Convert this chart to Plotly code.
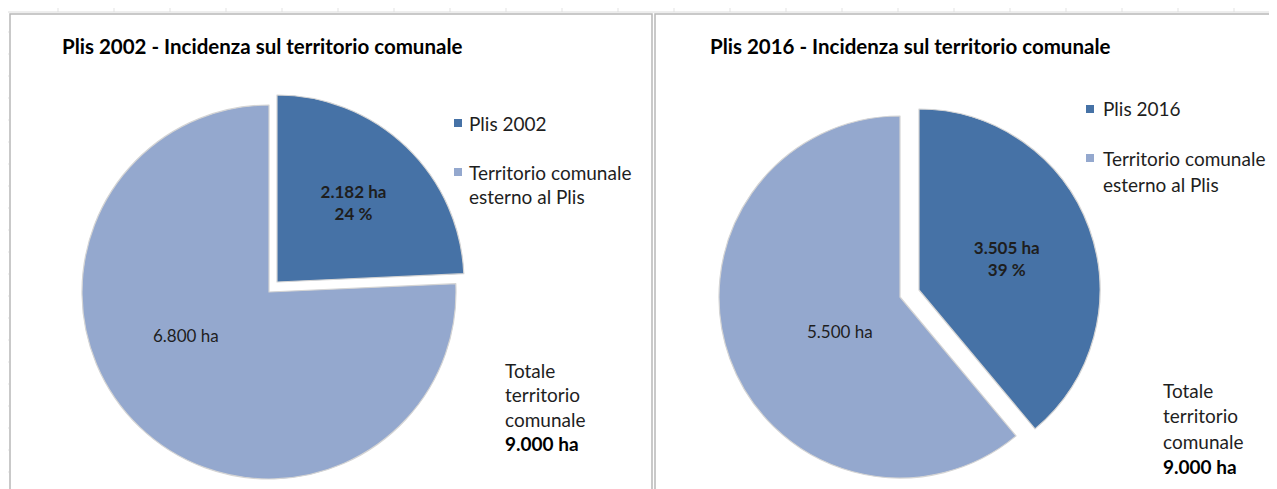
import plotly.graph_objects as go

W, H = 1277, 489
OFF = 8  # page body margin
FW, FH = W - OFF, H - OFF

# ---- data ----
labels_2002 = ["Plis 2002", "Territorio comunale esterno al Plis"]
values_2002 = [2182, 6800]
labels_2016 = ["Plis 2016", "Territorio comunale esterno al Plis"]
values_2016 = [3505, 5500]
total_ha = 9000
titles = ["Plis 2002 - Incidenza sul territorio comunale",
          "Plis 2016 - Incidenza sul territorio comunale"]
legend_lines = [["Plis 2002"], ["Territorio comunale", "esterno al Plis"]]
legend_lines_2016 = [["Plis 2016"], ["Territorio comunale", "esterno al Plis"]]
totale_lines = ["Totale", "territorio", "comunale"]

DARK = "#4672a6"
LIGHT = "#94a8ce"
CLEAR = "rgba(0,0,0,0)"
TXT = "#1e1e1e"
FONT = "Lato"


def px_x(x):
    return (x - OFF) / FW


def px_y(y):
    return 1 - (y - OFF) / FH


def fmt_ha(v):
    return f"{v:,.0f}".replace(",", ".") + " ha"


annotations = []
shapes = []


def pie_pair(labels, values, cx, cy, r, off, light_lab):
    total = sum(values)
    pct = round(values[0] / total * 100)
    dark_text = f"<b>{fmt_ha(values[0])}<br>{pct} %</b>"
    common = dict(labels=labels, values=values, sort=False, direction="clockwise",
                  rotation=0, textinfo="text", hoverinfo="label+value", showlegend=False,
                  insidetextorientation="horizontal")
    base = go.Pie(**common,
                  domain=dict(x=[px_x(cx - r), px_x(cx + r)], y=[px_y(cy + r), px_y(cy - r)]),
                  marker=dict(colors=[CLEAR, LIGHT], line=dict(color=[CLEAR, "#d4d4d4"], width=1.2)),
                  text=["", ""], textposition="none")
    ox, oy = off
    pulled = go.Pie(**common,
                    domain=dict(x=[px_x(cx + ox - r), px_x(cx + ox + r)],
                                y=[px_y(cy + oy + r), px_y(cy + oy - r)]),
                    marker=dict(colors=[DARK, CLEAR], line=dict(color=["#d4d4d4", CLEAR], width=1.2)),
                    text=[dark_text, ""], textposition="inside",
                    insidetextfont=dict(family=FONT, size=17, color=TXT))
    lx, ly = light_lab
    annotations.append(dict(text=fmt_ha(values[1]), x=px_x(lx), y=px_y(ly), xref="paper", yref="paper",
                            xanchor="center", yanchor="middle", showarrow=False,
                            font=dict(family=FONT, size=17, color=TXT)))
    return [base, pulled]


fig = go.Figure()
for t in pie_pair(labels_2002, values_2002, 269, 292, 187, (8, -10), (186, 335)):
    fig.add_trace(t)
for t in pie_pair(labels_2016, values_2016, 900, 297, 181, (19, -7), (840, 331)):
    fig.add_trace(t)

# Excel grid hints
for gx in range(58, 1277, 56):
    shapes.append(dict(type="line", xref="paper", yref="paper", x0=px_x(gx), x1=px_x(gx),
                       y0=px_y(8), y1=px_y(12), line=dict(color="#e3e3e3", width=1)))
for gy in range(32, 489, 22):
    shapes.append(dict(type="line", xref="paper", yref="paper", x0=px_x(8), x1=px_x(9),
                       y0=px_y(gy), y1=px_y(gy), line=dict(color="#e3e3e3", width=1)))
shapes.append(dict(type="line", xref="paper", yref="paper", x0=0, x1=1, y0=px_y(12), y1=px_y(12),
                   line=dict(color="#dcdcdc", width=1)))

# chart frames
for (x0, x1) in [(10, 652), (655, 1290)]:
    shapes.append(dict(type="rect", xref="paper", yref="paper", x0=px_x(x0), x1=px_x(x1),
                       y0=px_y(500), y1=px_y(14), line=dict(color="#b8b8b8", width=1.5),
                       fillcolor="rgba(0,0,0,0)"))

# titles
for text, cx in [(titles[0], 262), (titles[1], 910)]:
    annotations.append(dict(text=f"<b>{text}</b>", x=px_x(cx), y=px_y(46), xref="paper", yref="paper",
                            xanchor="center", yanchor="middle", showarrow=False,
                            font=dict(family=FONT, size=20.5, color="#000000")))


def legend(lines_list, sq_x, text_x, ys, line_gap):
    for (lines, color, y) in zip(lines_list, [DARK, LIGHT], ys):
        shapes.append(dict(type="rect", xref="paper", yref="paper",
                           x0=px_x(sq_x), x1=px_x(sq_x + 8), y0=px_y(y + 4), y1=px_y(y - 4),
                           fillcolor=color, line=dict(width=0)))
        for i, ln in enumerate(lines):
            annotations.append(dict(text=ln, x=px_x(text_x), y=px_y(y + i * line_gap),
                                    xref="paper", yref="paper", xanchor="left", yanchor="middle",
                                    showarrow=False, font=dict(family=FONT, size=19, color=TXT)))


legend(legend_lines, 454, 467, [123, 172], 25)
legend(legend_lines_2016, 1086, 1101, [109, 158], 26)


def totale(x, y0, gap):
    for i, ln in enumerate(totale_lines):
        annotations.append(dict(text=ln, x=px_x(x), y=px_y(y0 + i * gap), xref="paper", yref="paper",
                                xanchor="left", yanchor="middle", showarrow=False,
                                font=dict(family=FONT, size=19, color=TXT)))
    annotations.append(dict(text=f"<b>{fmt_ha(total_ha)}</b>", x=px_x(x), y=px_y(y0 + 3 * gap),
                            xref="paper", yref="paper", xanchor="left", yanchor="middle",
                            showarrow=False, font=dict(family=FONT, size=19, color="#000000")))


totale(503, 370, 24.5)
totale(1161, 390, 25.5)

fig.update_layout(width=FW, height=FH, margin=dict(l=0, r=0, t=0, b=0),
                  paper_bgcolor="white", plot_bgcolor="white",
                  separators=",.", shapes=shapes, annotations=annotations,
                  font=dict(family=FONT))
fig.write_html("out.html")
